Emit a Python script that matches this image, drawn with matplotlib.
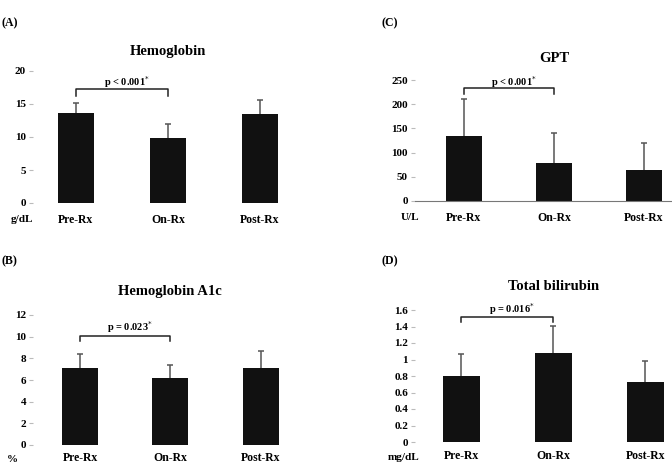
import matplotlib
matplotlib.use("Agg")
import matplotlib.pyplot as plt

categories = ["Pre-Rx", "On-Rx", "Post-Rx"]

hb_mean = [13.6, 9.85, 13.5]
hb_err = [1.6, 2.15, 2.1]
gpt_mean = [134, 78, 64]
gpt_err = [76, 62, 56]
a1c_mean = [7.1, 6.2, 7.1]
a1c_err = [1.3, 1.2, 1.6]
bil_mean = [0.80, 1.08, 0.73]
bil_err = [0.27, 0.33, 0.25]

titles = ["Hemoglobin", "GPT", "Hemoglobin A1c", "Total bilirubin"]
letters = ["(A)", "(C)", "(B)", "(D)"]
units = ["g/dL", "U/L", "%", "mg/dL"]
pvals = [r"p < 0.001$^{*}$", r"p < 0.001$^{*}$", r"p = 0.023$^{*}$", r"p = 0.016$^{*}$"]
yticks = [[0, 5, 10, 15, 20], [0, 50, 100, 150, 200, 250],
          [0, 2, 4, 6, 8, 10, 12], [0, 0.2, 0.4, 0.6, 0.8, 1.0, 1.2, 1.4, 1.6]]
ytick_labels = [["0", "5", "10", "15", "20"], ["0", "50", "100", "150", "200", "250"],
                ["0", "2", "4", "6", "8", "10", "12"],
                ["0", "0.2", "0.4", "0.6", "0.8", "1", "1.2", "1.4", "1.6"]]
bracket = [(16.2, 17.3, 18.3), (221, 233, 246), (9.6, 10.1, 10.9), (1.45, 1.52, 1.61)]
means = [hb_mean, gpt_mean, a1c_mean, bil_mean]
errs = [hb_err, gpt_err, a1c_err, bil_err]

W, H = 672, 467
fig = plt.figure(figsize=(W / 100, H / 100), dpi=100)
FONT = "Liberation Serif"

def rect(l, r, t, b):
    return [l / W, 1 - b / H, (r - l) / W, (b - t) / H]

layouts = [
    dict(r=(33, 305, 71, 203), xlim=(-0.467, 2.489), bw=0.39, ty=52, let=(2, 23), unit=(22, 219), axis=False, pad=8),
    dict(r=(415, 672, 80, 201), xlim=(-0.544, 2.311), bw=0.41, ty=59, let=(382, 23), unit=(410, 218), axis=True, pad=8),
    dict(r=(33, 305, 315, 445), xlim=(-0.52, 2.49), bw=0.40, ty=291, let=(2, 261), unit=(12, 459), axis=False, pad=5),
    dict(r=(415, 672, 310, 442), xlim=(-0.505, 2.288), bw=0.40, ty=287, let=(382, 261), unit=(404, 458), axis=False, pad=6),
]

for i, lay in enumerate(layouts):
    ax = fig.add_axes(rect(*lay["r"]))
    x = list(range(len(categories)))
    ax.bar(x, means[i], width=lay["bw"], color="#111111", zorder=2)
    tops = [m + e for m, e in zip(means[i], errs[i])]
    ax.vlines(x, means[i], tops, colors="#555555", lw=1.1, zorder=1)
    ax.plot(x, tops, ls="none", marker="_", ms=5, mew=1.1, color="#555555", zorder=1)
    ax.set_xlim(*lay["xlim"])
    yt = yticks[i]
    ax.set_ylim(0, yt[-1])
    ax.set_yticks(yt)
    ax.set_yticklabels(ytick_labels[i], fontfamily=FONT, fontweight="bold", fontsize=8)
    ax.set_xticks(x)
    ax.set_xticklabels(categories, fontfamily=FONT, fontweight="bold", fontsize=8.5)
    ax.tick_params(axis="y", length=3, color="#bbbbbb", pad=2)
    ax.tick_params(axis="x", length=0, pad=lay["pad"])
    for s in ["top", "right", "left"]:
        ax.spines[s].set_visible(False)
    ax.spines["bottom"].set_visible(lay["axis"])
    ax.spines["bottom"].set_color("#777777")
    # bracket
    yb, ytop, ytxt = bracket[i]
    ax.plot([0, 0, 1, 1], [yb, ytop, ytop, yb], color="#222222", lw=1.1, clip_on=False)
    ax.text(0.55, ytxt, pvals[i], ha="center", va="center", fontfamily=FONT,
            fontweight="bold", fontsize=7.5, clip_on=False)
    # title
    l, r, t, b = lay["r"]
    ax.text(1, 1 + (t - lay["ty"]) / (b - t), titles[i], transform=ax.get_xaxis_transform(),
            ha="center", va="center", fontfamily=FONT, fontweight="bold", fontsize=10.5)
    fig.text(lay["let"][0] / W, 1 - lay["let"][1] / H, letters[i], ha="left", va="center",
             fontfamily=FONT, fontweight="bold", fontsize=8.5)
    fig.text(lay["unit"][0] / W, 1 - lay["unit"][1] / H, units[i], ha="center", va="center",
             fontfamily=FONT, fontweight="bold", fontsize=8)

fig.savefig("out.png", dpi=100)
